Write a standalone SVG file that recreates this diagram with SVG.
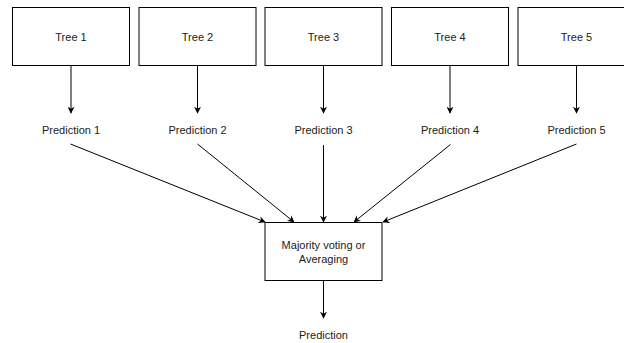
<svg xmlns="http://www.w3.org/2000/svg" width="624" height="343" viewBox="0 0 624 343">
<defs>
<style>
.box{fill:#fff;stroke:#000;stroke-width:1}
.t{font-family:"Liberation Sans",Arial,sans-serif;font-size:11px;fill:#1a1a1a;text-anchor:middle;dominant-baseline:central}
.c{stroke:#000;stroke-width:1;fill:none;marker-end:url(#ah)}
</style>
<marker id="ah" viewBox="0 0 10 10" refX="9" refY="5" markerWidth="7" markerHeight="7" markerUnits="userSpaceOnUse" orient="auto">
<path d="M0,0 L10,5 L0,10 L3,5 z" fill="#000"/>
</marker>
</defs>
<rect width="624" height="343" fill="#fff"/>
<g id="connectors">
<line class="c" x1="71" y1="65.5" x2="71" y2="113"/>
<line class="c" x1="197.5" y1="65.5" x2="197.5" y2="113"/>
<line class="c" x1="323.5" y1="65.5" x2="323.5" y2="113"/>
<line class="c" x1="450" y1="65.5" x2="450" y2="113"/>
<line class="c" x1="576.5" y1="65.5" x2="576.5" y2="113"/>
<line class="c" x1="70.5" y1="144" x2="265" y2="222"/>
<line class="c" x1="197.5" y1="144" x2="294" y2="222"/>
<line class="c" x1="323.5" y1="145" x2="323.5" y2="222"/>
<line class="c" x1="450.5" y1="144.5" x2="354" y2="222"/>
<line class="c" x1="576.5" y1="144" x2="383" y2="222"/>
<line class="c" x1="323.5" y1="280.5" x2="323.5" y2="318"/>
</g>
<g id="tree1"><rect class="box" x="12.5" y="7.5" width="117" height="58"/><text class="t" x="71" y="36.5">Tree 1</text></g>
<g id="tree2"><rect class="box" x="139" y="7.5" width="117" height="58"/><text class="t" x="197.5" y="36.5">Tree 2</text></g>
<g id="tree3"><rect class="box" x="265" y="7.5" width="117" height="58"/><text class="t" x="323.5" y="36.5">Tree 3</text></g>
<g id="tree4"><rect class="box" x="391.5" y="7.5" width="117" height="58"/><text class="t" x="450" y="36.5">Tree 4</text></g>
<g id="tree5"><rect class="box" x="518" y="7.5" width="117" height="58"/><text class="t" x="576.5" y="36.5">Tree 5</text></g>
<g id="pred1"><text class="t" x="71" y="130">Prediction 1</text></g>
<g id="pred2"><text class="t" x="197.5" y="130">Prediction 2</text></g>
<g id="pred3"><text class="t" x="323.5" y="130">Prediction 3</text></g>
<g id="pred4"><text class="t" x="450" y="130">Prediction 4</text></g>
<g id="pred5"><text class="t" x="576.5" y="130">Prediction 5</text></g>
<g id="vote"><rect class="box" x="265" y="222.5" width="117" height="58"/><text class="t" x="323.5" y="245">Majority voting or</text><text class="t" x="323.5" y="259">Averaging</text></g>
<g id="prediction"><text class="t" x="323.5" y="335">Prediction</text></g>
</svg>
